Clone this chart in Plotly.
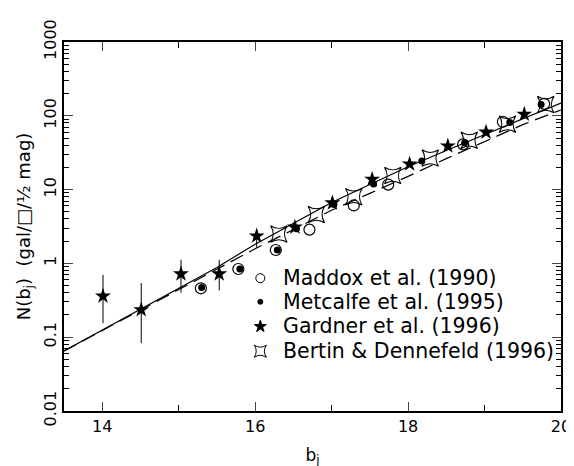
import plotly.graph_objects as go

# ---- data ----
maddox_b = [15.29, 15.78, 16.27, 16.71, 17.29, 17.74, 18.72, 19.24, 19.78]
maddox_n = [0.46, 0.84, 1.52, 2.87, 6.1, 11.7, 41, 83, 145]

metcalfe_b = [15.30, 15.80, 16.29, 16.54, 17.03, 17.55, 18.18, 18.74, 19.33, 19.74]
metcalfe_n = [0.47, 0.84, 1.52, 2.95, 6.3, 11.9, 24.5, 43, 81, 142]

gardner_b = [14.01, 14.51, 15.03, 15.53, 16.02, 16.52, 17.01, 17.53, 18.02, 18.52, 19.02, 19.52]
gardner_n = [0.36, 0.235, 0.72, 0.72, 2.35, 3.1, 6.6, 13.8, 22.2, 39, 60, 105]
gardner_hi = [0.70, 0.54, 1.12, 1.12, 2.9, 3.1, 6.6, 13.8, 22.2, 39, 60, 105]
gardner_lo = [0.155, 0.083, 0.40, 0.43, 1.64, 3.1, 6.6, 13.8, 22.2, 39, 60, 105]

bertin_b = [16.31, 16.80, 17.29, 17.80, 18.29, 18.80, 19.30, 19.80]
bertin_n = [2.5, 4.6, 8.0, 15.5, 26.7, 46.5, 77, 142]

model_b = [13.5, 14.0, 14.5, 15.0, 15.5, 16.0, 16.5, 17.0, 17.5, 18.0, 18.5, 19.0, 19.5, 20.0]
model_solid = [0.065, 0.124, 0.24, 0.46, 0.88, 1.82, 3.47, 6.7, 11.7, 20.4, 33.9, 55.6, 91, 149]
model_dash = [0.065, 0.123, 0.232, 0.43, 0.82, 1.58, 2.87, 5.25, 8.9, 15.1, 26.3, 45.2, 75.9, 120]

legend_labels = ["Maddox et al. (1990)", "Metcalfe et al. (1995)",
                 "Gardner et al. (1996)", "Bertin & Dennefeld (1996)"]
legend_symbols = ["circle-open", "circle", "star", "star-square-open"]
legend_sizes = [9, 5, 9, 11]

x_ticks = [14, 16, 18, 20]
y_ticks = [0.01, 0.1, 1, 10, 100, 1000]
y_ticklabels = ["0.01", "0.1", "1", "10", "100", "1000"]

FONT = "DejaVu Sans"
fig = go.Figure()

fig.add_trace(go.Scatter(x=model_b, y=model_solid, mode="lines",
                         line=dict(color="black", width=1.2), showlegend=False))
fig.add_trace(go.Scatter(x=model_b, y=model_dash, mode="lines",
                         line=dict(color="black", width=1.2, dash="14px,7px"), showlegend=False))

fig.add_trace(go.Scatter(x=maddox_b, y=maddox_n, mode="markers", name=legend_labels[0], showlegend=False,
                         marker=dict(symbol="circle-open", size=11, color="black", line=dict(width=1.2))))
fig.add_trace(go.Scatter(x=metcalfe_b, y=metcalfe_n, mode="markers", name=legend_labels[1], showlegend=False,
                         marker=dict(symbol="circle", size=7, color="black")))
fig.add_trace(go.Scatter(
    x=gardner_b, y=gardner_n, mode="markers", name=legend_labels[2], showlegend=False,
    marker=dict(symbol="star", size=12, color="black"),
    error_y=dict(type="data", symmetric=False,
                 array=[h - n for h, n in zip(gardner_hi, gardner_n)],
                 arrayminus=[n - l for l, n in zip(gardner_lo, gardner_n)],
                 color="black", thickness=1, width=0)))
fig.add_trace(go.Scatter(x=bertin_b, y=bertin_n, mode="markers", name=legend_labels[3], showlegend=False,
                         marker=dict(symbol="star-square-open", size=15, color="black", line=dict(width=1.2))))

# legend drawn inside the plot: symbols on an overlay axis spanning the plot area, labels as text
leg_x_sym = 0.395
leg_x_txt = 0.437
leg_rows = [0.360, 0.296, 0.229, 0.162]
for lab, sym, sz, yy in zip(legend_labels, legend_symbols, legend_sizes, leg_rows):
    fig.add_trace(go.Scatter(x=[leg_x_sym], y=[yy], xaxis="x2", yaxis="y2", mode="markers",
                             showlegend=False, hoverinfo="skip",
                             marker=dict(symbol=sym, size=sz, color="black", line=dict(width=1, color="black"))))
    fig.add_annotation(x=leg_x_txt, y=yy, xref="paper", yref="paper", text=lab, showarrow=False,
                       xanchor="left", yanchor="middle", font=dict(size=20.5, family=FONT, color="black"))

fig.update_layout(
    width=574, height=466,
    margin=dict(l=56, r=11, t=24, b=63),
    paper_bgcolor="white", plot_bgcolor="white",
    font=dict(family=FONT, color="black", size=16),
    showlegend=False,
    xaxis=dict(range=[13.5, 20], tickvals=x_ticks, ticks="inside", ticklen=9,
               showline=True, linecolor="black", linewidth=1.5, mirror="ticks",
               showgrid=False, zeroline=False, tickfont=dict(size=16),
               minor=dict(dtick=1, ticks="inside", ticklen=6, tickcolor="black"),
               title=dict(text="b<sub>j</sub>", font=dict(size=17), standoff=14)),
    yaxis=dict(type="log", range=[-2, 3], tickvals=y_ticks, ticktext=y_ticklabels,
               ticks="inside", ticklen=9, tickangle=-90,
               showline=True, linecolor="black", linewidth=1.5, mirror="ticks",
               showgrid=False, zeroline=False, tickfont=dict(size=16),
               minor=dict(ticks="inside", ticklen=5, tickcolor="black", dtick="D1"),
               title=dict(text="N(b<sub>j</sub>)  (gal/□/½ mag)", font=dict(size=18), standoff=6)),
    xaxis2=dict(overlaying="x", range=[0, 1], visible=False),
    yaxis2=dict(overlaying="y", range=[0, 1], visible=False),
)

fig.write_html("out.html")
